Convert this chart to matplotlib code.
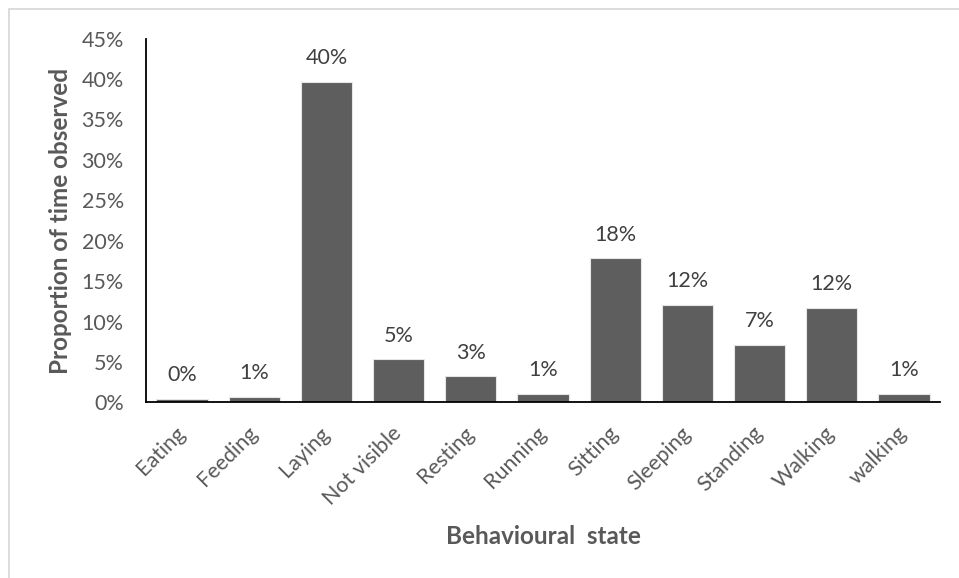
import matplotlib
matplotlib.use("Agg")
import matplotlib.pyplot as plt
from matplotlib.patches import Rectangle
from matplotlib.ticker import FuncFormatter, MultipleLocator

categories = ["Eating", "Feeding", "Laying", "Not visible", "Resting", "Running",
              "Sitting", "Sleeping", "Standing", "Walking", "walking"]
values = [0.4, 0.7, 39.6, 5.3, 3.2, 1.0, 17.8, 12.0, 7.05, 11.7, 1.0]

plt.rcParams['font.family'] = ['Lato', 'DejaVu Sans']

fig = plt.figure(figsize=(9.59, 5.78), dpi=100)
fig.patch.set_facecolor('white')
fig.add_artist(Rectangle((9/959, -0.1), 1.2, (578-9)/578 + 0.1, transform=fig.transFigure,
                         fill=False, edgecolor='#d9d9d9', linewidth=1.3))

ax = fig.add_axes([146/959, (578-402.3)/578, (940-146)/959, (402.3-38.7)/578])
x = range(len(categories))
bars = ax.bar(x, values, width=0.71, color='#5e5e5e', edgecolor='#e6e6e6', linewidth=0.8)

for xi, v in zip(x, values):
    ax.annotate(f"{round(v):.0f}%", (xi, v), xytext=(0, 10), textcoords='offset points',
                ha='center', va='bottom', fontsize=15.5, color='#404040')

ax.set_ylim(0, 45)
ax.set_xlim(-0.5, len(categories) - 0.5)
ax.yaxis.set_major_locator(MultipleLocator(5))
ax.yaxis.set_major_formatter(FuncFormatter(lambda v, p: f"{v:.0f}%"))
ax.tick_params(axis='y', length=0, pad=16, labelsize=15.5, labelcolor='#595959')
ax.tick_params(axis='x', length=0, pad=20, labelsize=15.5, labelcolor='#595959')
ax.set_xticks(list(x))
ax.set_xticklabels(categories, rotation=45, ha='right', rotation_mode='anchor', va='center')

for s in ['top', 'right']:
    ax.spines[s].set_visible(False)
for s in ['left', 'bottom']:
    ax.spines[s].set_color('black')
    ax.spines[s].set_linewidth(1.3)

fig.text(60/959, 1 - 221/578, "Proportion of time observed", rotation=90, ha='center', va='center',
         fontsize=17.5, fontweight='bold', color='#595959')
fig.text(543/959, 1 - 537/578, "Behavioural  state", ha='center', va='center',
         fontsize=17.5, fontweight='bold', color='#595959')

fig.savefig("out.png", dpi=100)
